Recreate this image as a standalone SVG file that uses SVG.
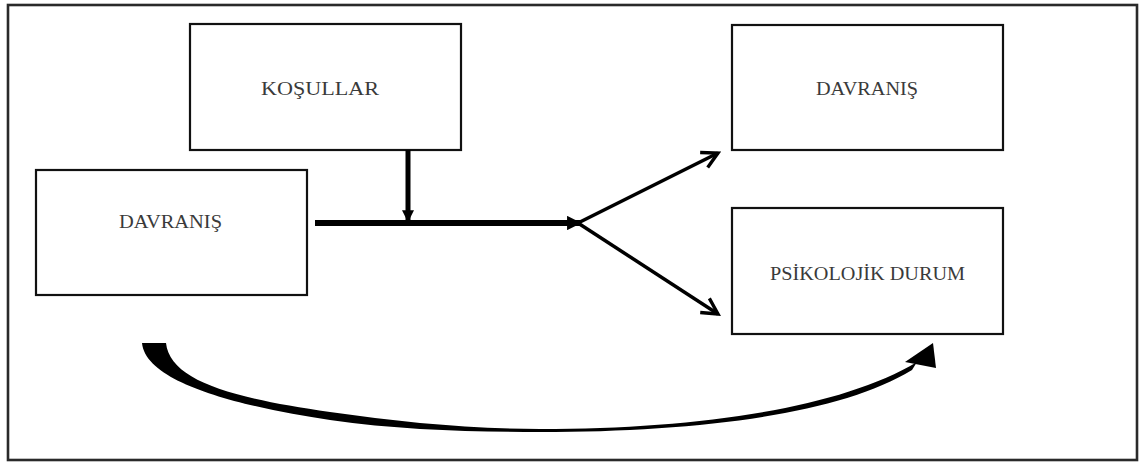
<svg xmlns="http://www.w3.org/2000/svg" width="1141" height="462" viewBox="0 0 1141 462">
<style>
.box{fill:#fff;stroke:#111;stroke-width:2.2}
.lbl{font-family:"Liberation Serif","DejaVu Serif",serif;font-size:18px;fill:#3a3a3a;text-anchor:middle}
.conn{stroke:#000;fill:none}
</style>
<defs>
<marker id="open" viewBox="0 0 20 20" refX="17" refY="10" markerWidth="6" markerHeight="6" markerUnits="strokeWidth" orient="auto">
<path d="M2,2 L17,10 L2,18" fill="none" stroke="#000" stroke-width="3.2"/>
</marker>
<marker id="solid" viewBox="0 0 10 10" refX="9" refY="5" markerWidth="2.4" markerHeight="2.4" markerUnits="strokeWidth" orient="auto">
<path d="M0,0 L10,5 L0,10 Z" fill="#000"/>
</marker>
</defs>
<rect x="8" y="5" width="1129" height="455" fill="#fff" stroke="#2a2a2a" stroke-width="2.6"/>
<g id="kosullar">
<rect class="box" x="190" y="24" width="271" height="126"/>
<text class="lbl" x="320" y="95" textLength="118" lengthAdjust="spacingAndGlyphs">KOŞULLAR</text>
</g>
<g id="davranis-left">
<rect class="box" x="36" y="170" width="271" height="125"/>
<text class="lbl" x="170.5" y="228" textLength="103" lengthAdjust="spacingAndGlyphs">DAVRANIŞ</text>
</g>
<g id="davranis-right">
<rect class="box" x="732" y="25" width="271" height="125"/>
<text class="lbl" x="867" y="95" textLength="102" lengthAdjust="spacingAndGlyphs">DAVRANIŞ</text>
</g>
<g id="psikolojik">
<rect class="box" x="732" y="208" width="271" height="126"/>
<text class="lbl" x="867.5" y="280" textLength="195" lengthAdjust="spacingAndGlyphs">PSİKOLOJİK DURUM</text>
</g>
<g id="connectors">
<line class="conn" x1="315" y1="223" x2="580" y2="223" stroke-width="6" marker-end="url(#solid)"/>
<line class="conn" x1="408" y1="150" x2="408" y2="221" stroke-width="5" marker-end="url(#solid)"/>
<line class="conn" x1="578" y1="223" x2="718" y2="153" stroke-width="3.5" marker-end="url(#open)"/>
<line class="conn" x1="578" y1="223" x2="718" y2="314" stroke-width="3.5" marker-end="url(#open)"/>
<path d="M142,343 C146,385 250,408 330,420 C400,430 470,432 540,432 C700,432 840,414 912,370 L917,362 C840,408 700,429 540,429 C470,429 400,422 330,412 C230,398 170,380 166,343 Z" fill="#000"/>
<path d="M905,362 L933,343 L936,368 Z" fill="#000"/>
</g>
</svg>
